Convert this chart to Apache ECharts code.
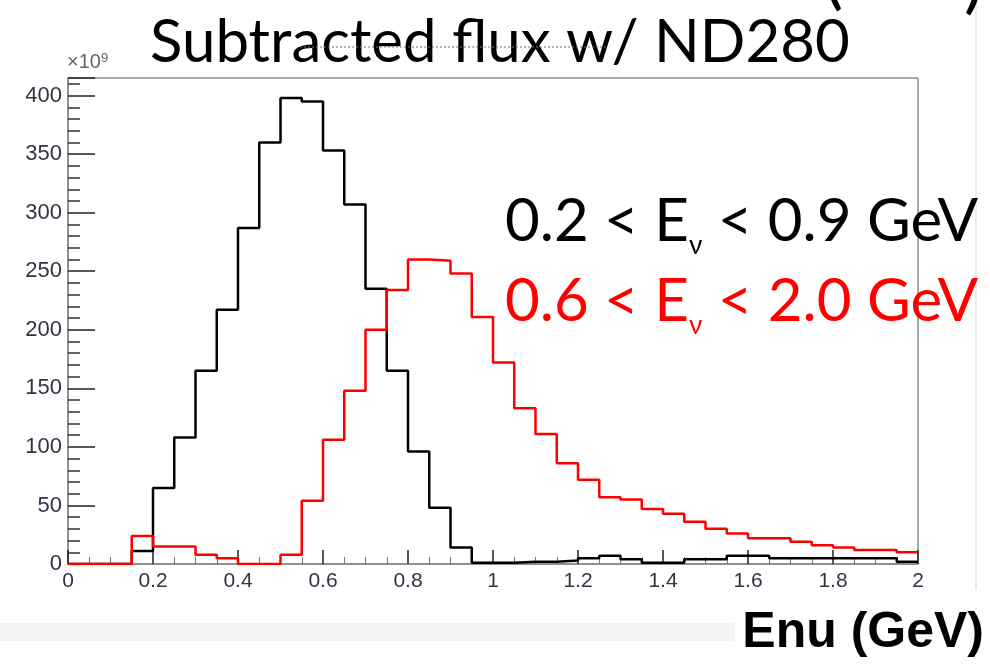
<!DOCTYPE html>
<html><head><meta charset="utf-8">
<script src="https://cdn.jsdelivr.net/npm/echarts@6/dist/echarts.min.js"></script>
<style>html,body{margin:0;padding:0;background:#fff}#c{width:990px;height:664px}</style>
</head><body><div id="c"></div>
<script>
// Bin edges in Enu (GeV)
const binEdges = [0.00,0.05,0.10,0.15,0.20,0.25,0.30,0.35,0.40,0.45,0.50,0.55,0.60,0.65,0.70,0.75,0.80,0.85,0.90,0.95,
  1.00,1.05,1.10,1.15,1.20,1.25,1.30,1.35,1.40,1.45,1.50,1.55,1.60,1.65,1.70,1.75,1.80,1.85,1.90,1.95,2.00];
// Flux (x10^9) per bin, 0.2 < Ev < 0.9 GeV selection (black)
const fluxLow = [0,0,0,11,65,108,165,217,287,360,398,395,353,307,235,165,96,48,14,1,
  1,2,2,3,5,7,4,1,1,4,4,7,7,5,5,5,5,5,5,2];
// Flux (x10^9) per bin, 0.6 < Ev < 2.0 GeV selection (red)
const fluxHigh = [0,0,0,24,15,15,8,5,0,0,8,54,106,148,200,234,260,259,248,211,
  172,133,111,86,72,57,55,47,43,36,30,26,22,22,19,16,14,12,12,10];
const xTickLabels = [0,0.2,0.4,0.6,0.8,1,1.2,1.4,1.6,1.8,2];
const yTickLabels = [0,50,100,150,200,250,300,350,400];

function stepPoints(vals){
  const pts = [];
  for (let i = 0; i < vals.length; i++) pts.push([binEdges[i], vals[i]]);
  pts.push([binEdges[binEdges.length-1], vals[vals.length-1]]);
  return pts;
}

const chart = echarts.init(document.getElementById('c'), null, {renderer:'canvas'});
const labelFont = "'Liberation Sans', Arial, sans-serif";
const bigFont = "Lato, 'Open Sans', sans-serif";
function annot(txt1, txt2, color, top){
  return {type:'text',left:505,top:top,style:{text:'{a|'+txt1+'}{s|ν}{a|'+txt2+'}',
    rich:{a:{fontSize:60,lineHeight:60,fontFamily:bigFont,fill:color,verticalAlign:'middle'},
          s:{fontSize:26,lineHeight:74,fontFamily:bigFont,fill:color,verticalAlign:'bottom'}}}};
}
chart.setOption({
  animation:false,
  backgroundColor:'#fff',
  grid:{left:68,right:72,top:78,bottom:100,show:true,borderColor:'#555',borderWidth:1,backgroundColor:'transparent'},
  xAxis:{type:'value',min:0,max:2,interval:0.2,
    axisLine:{onZero:false,lineStyle:{color:'#888',width:1.5}},
    axisTick:{inside:true,length:14,lineStyle:{color:'#222',width:1.5}},
    minorTick:{show:true,splitNumber:4,length:7,lineStyle:{color:'#777'}},
    splitLine:{show:false},
    axisLabel:{color:'#334',fontSize:21,fontFamily:labelFont,margin:7,
      formatter:v=>{const m=xTickLabels.find(t=>Math.abs(t-v)<1e-6);return m===undefined?'':String(m);}}
  },
  yAxis:{type:'value',min:0,max:415,interval:50,
    axisLine:{show:true,lineStyle:{color:'#888',width:1.5}},
    axisTick:{inside:true,length:27,lineStyle:{color:'#222',width:1.5}},
    minorTick:{show:true,splitNumber:5,length:12,lineStyle:{color:'#333',width:1.5}},
    splitLine:{show:false},
    axisLabel:{color:'#334',fontSize:22,fontFamily:labelFont,margin:6,
      formatter:v=>{const m=yTickLabels.find(t=>Math.abs(t-v)<1e-6);return m===undefined?'':String(m);}}
  },
  series:[
    {type:'line',name:'0.2-0.9',step:'end',symbol:'none',data:stepPoints(fluxLow),
      lineStyle:{color:'#000',width:2.5},z:3},
    {type:'line',name:'0.6-2.0',step:'end',symbol:'none',data:stepPoints(fluxHigh),
      lineStyle:{color:'#ff0000',width:2.5},z:4}
  ],
  graphic:[
    {type:'rect',shape:{x:0,y:623,width:735,height:18},style:{fill:'#f3f3f3'},silent:true,z:-1},
    {type:'line',shape:{x1:976,y1:0,x2:976,y2:590},style:{stroke:'#e2e2e2',lineWidth:1.5},silent:true},
    {type:'text',left:824,top:-58,style:{text:'(',font:"400 72px "+bigFont,fill:'#000'}},
    {type:'text',left:964,top:-54,style:{text:')',font:"400 72px "+bigFont,fill:'#000'}},
    {type:'text',left:150,top:13,style:{text:'Subtracted flux w/ ND280',font:"400 60px "+bigFont,fill:'#000'}},
    {type:'line',shape:{x1:300,y1:47,x2:606,y2:47},style:{stroke:'#777',lineWidth:1,lineDash:[2,2]},silent:true},
    {type:'text',left:67,top:52,style:{rich:{a:{fontSize:20,fontFamily:labelFont,fill:'#666'},s:{fontSize:13,fontFamily:labelFont,fill:'#666',verticalAlign:'top'}},text:'{a|×10}{s|9}'}},
    annot('0.2 < E',' < 0.9 GeV','#000',192),
    annot('0.6 < E',' < 2.0 GeV','#ff0000',272),
    {type:'text',right:6,top:608,style:{text:'Enu (GeV)',font:"bold 50px "+labelFont,fill:'#000'}}
  ]
});
</script></body></html>
